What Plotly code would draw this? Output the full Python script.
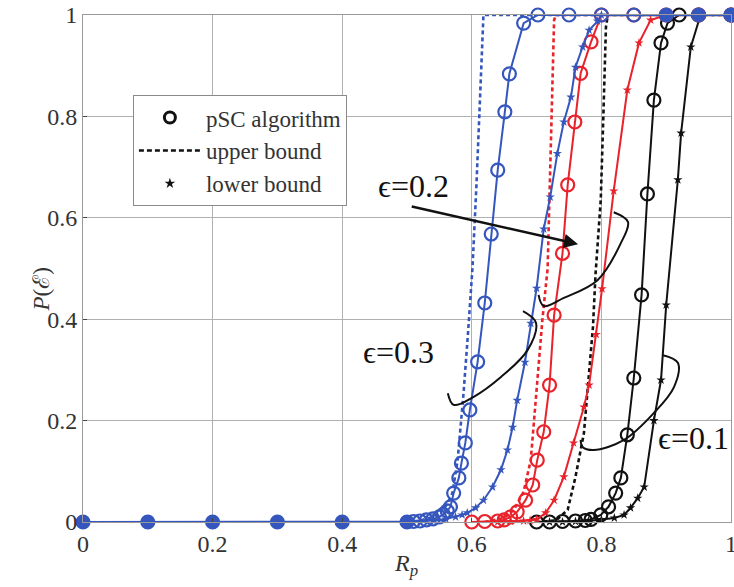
import plotly.graph_objects as go

# ---- data ----
blue_psc_x = [0, 0.1, 0.2, 0.3, 0.4, 0.5, 0.51, 0.52, 0.53, 0.54, 0.55, 0.556, 0.562, 0.567, 0.572, 0.580, 0.584, 0.590,
              0.597, 0.609, 0.620, 0.630, 0.640, 0.651, 0.658, 0.680, 0.702, 0.75, 0.80, 0.85, 0.90, 0.95, 1.0]
blue_psc_y = [0, 0, 0, 0, 0, 0, 0.001, 0.002, 0.004, 0.006, 0.01, 0.015, 0.022, 0.030, 0.057, 0.087, 0.116, 0.156,
              0.221, 0.316, 0.432, 0.568, 0.694, 0.809, 0.884, 0.984, 1, 1, 1, 1, 1, 1, 1]
blue_up_x = [0.50, 0.52, 0.54, 0.552, 0.562, 0.570, 0.578, 0.587, 0.594, 0.601, 0.607, 0.613, 0.618, 0.65, 0.7, 0.8, 0.9, 1.0]
blue_up_y = [0, 0.003, 0.01, 0.02, 0.035, 0.057, 0.12, 0.25, 0.37, 0.5, 0.66, 0.84, 1.0, 1, 1, 1, 1, 1]
blue_lo_x = [0.5, 0.52, 0.54, 0.56, 0.575, 0.585, 0.593, 0.606, 0.618, 0.632, 0.645, 0.655, 0.663, 0.670, 0.682,
             0.691, 0.700, 0.711, 0.721, 0.732, 0.742, 0.753, 0.760, 0.771, 0.781, 0.794, 0.80, 0.9, 1.0]
blue_lo_y = [0, 0.001, 0.003, 0.006, 0.01, 0.014, 0.018, 0.028, 0.043, 0.069, 0.103, 0.142, 0.187, 0.24, 0.315,
             0.392, 0.461, 0.578, 0.641, 0.727, 0.789, 0.838, 0.897, 0.937, 0.970, 0.988, 1.0, 1, 1]

red_psc_x = [0.6, 0.62, 0.64, 0.65, 0.66, 0.67, 0.683, 0.694, 0.701, 0.711, 0.720, 0.727, 0.740, 0.748, 0.759, 0.768,
             0.784, 0.80, 0.85, 0.9, 0.95, 1.0]
red_psc_y = [0, 0.001, 0.002, 0.004, 0.01, 0.02, 0.043, 0.073, 0.122, 0.178, 0.270, 0.408, 0.530, 0.665, 0.789, 0.885,
             0.947, 1, 1, 1, 1, 1]
red_up_x = [0.62, 0.65, 0.665, 0.68, 0.691, 0.699, 0.709, 0.717, 0.722, 0.727, 0.73, 0.8, 0.9, 1.0]
red_up_y = [0, 0.008, 0.024, 0.06, 0.122, 0.254, 0.40, 0.5, 0.75, 0.99, 1.0, 1, 1, 1]
red_lo_x = [0.64, 0.66, 0.68, 0.69, 0.70, 0.714, 0.727, 0.742, 0.757, 0.773, 0.781, 0.792, 0.801, 0.819, 0.840, 0.858,
            0.876, 0.90, 0.95, 1.0]
red_lo_y = [0, 0.001, 0.002, 0.003, 0.005, 0.018, 0.043, 0.089, 0.156, 0.227, 0.270, 0.37, 0.46, 0.653, 0.852, 0.945,
            0.99, 1, 1, 1]

blk_psc_x = [0.70, 0.72, 0.74, 0.76, 0.775, 0.784, 0.799, 0.811, 0.822, 0.830, 0.840, 0.850, 0.862, 0.871, 0.881,
             0.892, 0.902, 0.92, 0.95, 1.0]
blk_psc_y = [0, 0.0, 0.001, 0.002, 0.003, 0.005, 0.014, 0.03, 0.057, 0.087, 0.172, 0.284, 0.448, 0.647, 0.832,
             0.945, 0.984, 1, 1, 1]
blk_up_x = [0.70, 0.73, 0.748, 0.760, 0.773, 0.787, 0.791, 0.799, 0.803, 0.807, 0.81, 0.9, 1.0]
blk_up_y = [0, 0.003, 0.024, 0.089, 0.175, 0.385, 0.49, 0.635, 0.8, 0.976, 1.0, 1, 1]
blk_lo_x = [0.72, 0.74, 0.76, 0.78, 0.80, 0.82, 0.835, 0.845, 0.856, 0.866, 0.881, 0.892, 0.900, 0.918, 0.923,
            0.938, 0.953, 1.0]
blk_lo_y = [0, 0.0, 0.001, 0.002, 0.005, 0.008, 0.014, 0.028, 0.047, 0.069, 0.2, 0.28, 0.428, 0.675, 0.767,
            0.937, 1, 1]

# hand-drawn bracket loops of the annotations
loop02_x = [0.819, 0.841, 0.830, 0.794, 0.742, 0.711, 0.703]
loop02_y = [0.611, 0.592, 0.550, 0.477, 0.442, 0.426, 0.448]
loop03_x = [0.679, 0.699, 0.686, 0.645, 0.603, 0.572, 0.563]
loop03_y = [0.416, 0.393, 0.339, 0.286, 0.247, 0.231, 0.254]
loop01_x = [0.895, 0.918, 0.912, 0.881, 0.835, 0.788, 0.771, 0.768]
loop01_y = [0.329, 0.314, 0.266, 0.215, 0.162, 0.142, 0.148, 0.162]

x_ticks = [0, 0.2, 0.4, 0.6, 0.8, 1]
x_tick_text = ["0", "0.2", "0.4", "0.6", "0.8", "1"]
y_ticks = [0, 0.2, 0.4, 0.6, 0.8, 1]
y_tick_text = ["0", "0.2", "0.4", "0.6", "0.8", "1"]

BLUE = "#3556bd"
RED = "#e8232b"
BLACK = "#111111"
FONT = "Liberation Serif"

fig = go.Figure()


def add_set(col, px, py, ux, uy, lx, ly, filled_idx=()):
    fig.add_trace(go.Scatter(x=ux, y=uy, mode="lines", line=dict(color=col, width=2.6, dash="4px,3px"),
                             showlegend=False, cliponaxis=False, hoverinfo="skip"))
    fig.add_trace(go.Scatter(x=lx, y=ly, mode="lines+markers", line=dict(color=col, width=2),
                             marker=dict(symbol="star", size=7, color=col),
                             showlegend=False, cliponaxis=False, hoverinfo="skip"))
    syms = ["circle" if i in filled_idx else "circle-open" for i in range(len(px))]
    fig.add_trace(go.Scatter(x=px, y=py, mode="lines+markers", line=dict(color=col, width=2),
                             marker=dict(symbol=syms, size=13, color=col, line=dict(width=2.2, color=col)),
                             showlegend=False, cliponaxis=False, hoverinfo="skip"))


add_set(BLACK, blk_psc_x, blk_psc_y, blk_up_x, blk_up_y, blk_lo_x, blk_lo_y)
add_set(RED, red_psc_x, red_psc_y, red_up_x, red_up_y, red_lo_x, red_lo_y)
n = len(blue_psc_x)
add_set(BLUE, blue_psc_x, blue_psc_y, blue_up_x, blue_up_y, blue_lo_x, blue_lo_y,
        filled_idx=set(range(6)) | {n - 3, n - 2, n - 1})

for lx, ly in [(loop02_x, loop02_y), (loop03_x, loop03_y), (loop01_x, loop01_y)]:
    fig.add_trace(go.Scatter(x=lx, y=ly, mode="lines", line=dict(color=BLACK, width=2, shape="spline"),
                             showlegend=False, cliponaxis=False, hoverinfo="skip"))

# legend dummies
fig.add_trace(go.Scatter(x=[None], y=[None], mode="markers", name="pSC algorithm",
                         marker=dict(symbol="circle-open", size=11, color=BLACK, line=dict(width=3, color=BLACK))))
fig.add_trace(go.Scatter(x=[None], y=[None], mode="lines", name="upper bound",
                         line=dict(color=BLACK, width=2.6, dash="5px,3px")))
fig.add_trace(go.Scatter(x=[None], y=[None], mode="markers", name="lower bound",
                         marker=dict(symbol="star", size=8, color=BLACK)))

ann_font = dict(family=FONT, size=32, color=BLACK)
fig.add_annotation(x=0.764, y=0.548, ax=0.505, ay=0.623, xref="x", yref="y", axref="x", ayref="y",
                   text="", showarrow=True, arrowhead=2, arrowsize=1.1, arrowwidth=2.6, arrowcolor=BLACK)
fig.add_annotation(x=0.510, y=0.663, xref="x", yref="y", text="ϵ=0.2", showarrow=False, font=ann_font)
fig.add_annotation(x=0.487, y=0.335, xref="x", yref="y", text="ϵ=0.3", showarrow=False, font=ann_font)
fig.add_annotation(x=1.0, y=0.166, xref="x", yref="y", xanchor="right", text="ϵ=0.1", showarrow=False,
                   font=ann_font)

# axis titles
fig.add_annotation(x=-0.086, y=0.458, xref="paper", yref="paper", text="<i>P</i>(ℰ)", textangle=-90,
                   showarrow=False, font=dict(family=FONT, size=23, color="#333333"))
fig.add_annotation(x=0.498, y=-0.118, xref="paper", yref="paper", text="<i>R</i><sub><i>p</i></sub>",
                   showarrow=False, font=dict(family=FONT, size=24, color="#333333"))

axis_common = dict(range=[0, 1], showgrid=True, gridcolor="#b0b0b0", gridwidth=1, zeroline=False,
                   showline=True, linecolor="#9a9a9a", linewidth=1, mirror=True,
                   ticks="inside", ticklen=4, tickcolor="#444444", automargin=False,
                   tickfont=dict(family=FONT, size=24, color="#333333"))

fig.update_xaxes(**axis_common, tickvals=x_ticks, ticktext=x_tick_text, ticklabeloverflow="allow")
fig.update_yaxes(**axis_common, tickvals=y_ticks, ticktext=y_tick_text)

fig.update_layout(
    width=734, height=587,
    margin=dict(l=83, r=3, t=15, b=65),
    paper_bgcolor="white", plot_bgcolor="white",
    legend=dict(x=0.077, y=0.842, xanchor="left", yanchor="top", bgcolor="white",
                bordercolor="#8a8a8a", borderwidth=1, itemwidth=62,
                font=dict(family=FONT, size=23, color="#333333")),
)

fig.write_html("out.html")
